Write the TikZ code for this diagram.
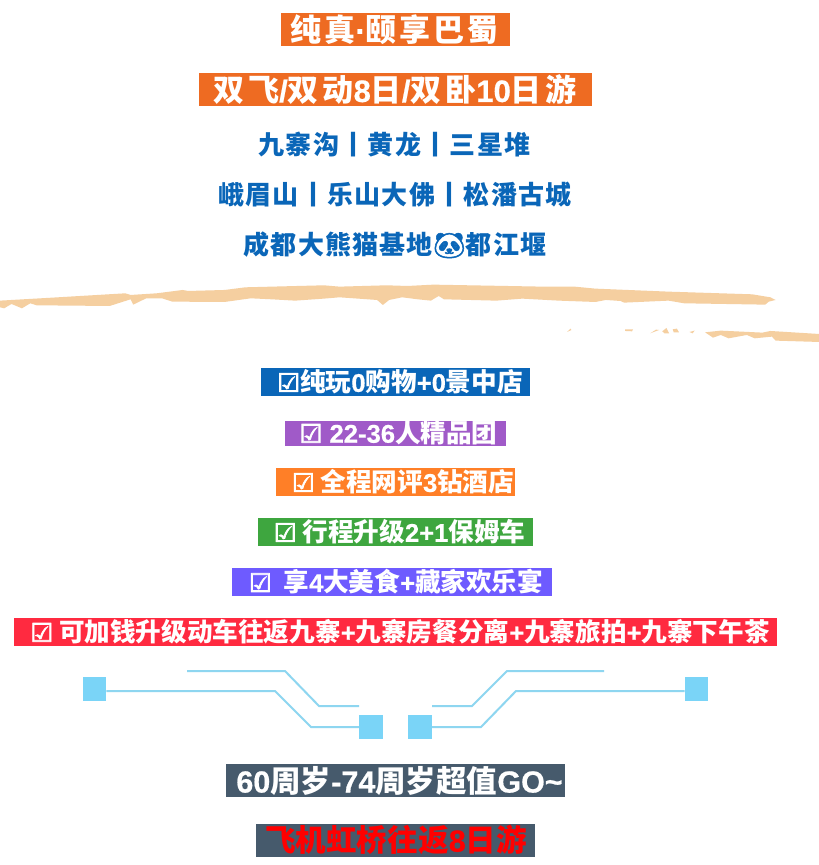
\documentclass[tikz,border=0pt]{standalone}
\usepackage{fontspec}
\setmainfont{Noto Sans CJK SC}
\newfontfamily\la[FakeBold=0.6]{Liberation Sans}
\newfontfamily\ck[FakeBold=3]{DejaVu Sans}
\newfontfamily\emo[FakeBold=2]{Noto Emoji}
\definecolor{topor}{HTML}{EE6B22}
\definecolor{blu}{HTML}{0A66B8}
\definecolor{pur}{HTML}{A05AC8}
\definecolor{org}{HTML}{FF7F27}
\definecolor{grn}{HTML}{3EA63F}
\definecolor{vio}{HTML}{6E5BFF}
\definecolor{rd}{HTML}{FF2A40}
\definecolor{slate}{HTML}{465A6C}
\definecolor{wire}{HTML}{8ED6F0}
\definecolor{sq}{HTML}{7AD4F7}
\definecolor{brush}{HTML}{F5CFA0}
\newcommand{\txt}[3]{\fontsize{#1}{#1}\bfseries\addfontfeature{LetterSpace=#2}#3}
\newcommand{\lat}[1]{{\la\bfseries #1}}
\newcommand{\cb}{{\ck ☑}}
\tikzset{
  x=1pt,y=-1pt,
  tag/.style={inner sep=0pt,text=white},
  wirel/.style={draw=wire,line width=2pt},
  sqbox/.style={fill=sq,minimum width=23.5pt,minimum height=24pt,inner sep=0pt},
  bar/.style={fill=#1},
}
\begin{document}
\begin{tikzpicture}
\useasboundingbox (0,0) rectangle (819,865);
\fill[white] (0,0) rectangle (819,865);
% coloured bars
\fill[bar=topor] (281,13) rectangle (510,46);
\fill[bar=topor] (199,73) rectangle (592,106);
\fill[bar=blu] (261,368) rectangle (530,396);
\fill[bar=pur] (285,421) rectangle (506,446);
\fill[bar=org] (276,468) rectangle (515,496);
\fill[bar=grn] (258,518) rectangle (533,546);
\fill[bar=vio] (232,568) rectangle (552,596);
\fill[bar=rd] (14,618) rectangle (777,646);
\fill[bar=slate] (226,764) rectangle (565,797);
\fill[bar=slate] (256,824) rectangle (535,857);
% headings
\node[tag] (h1) at (394.5,30) {\txt{31}{9}{纯真\lat{·}颐享巴蜀}};
\node[tag] (h2) at (395,90) {\txt{31}{12.5}{双飞\lat{/}双动\lat{8}日\lat{/}双卧\lat{10}日游}};
\node[tag,text=blu] (b1) at (394.5,145) {\txt{26}{5}{九寨沟丨黄龙丨三星堆}};
\node[tag,text=blu] (b2) at (395,195) {\txt{26}{5}{峨眉山丨乐山大佛丨松潘古城}};
\node[tag,text=blu] (b3) at (395,245) {\txt{26}{4.5}{成都大熊猫基地{\emo 🐼}都江堰}};
% brush strokes
\begin{scope}[x=0.5223pt,y=-0.3333pt,shift={(0,810)}]
\fill[brush] (0,92) -- (100,83) -- (240,70) -- (250,75) -- (300,70) -- (350,60) -- (360,63) -- (430,60) -- (470,52) -- (620,46) -- (650,50) -- (740,46) -- (780,48) -- (830,44) -- (1040,50) -- (1100,50) -- (1140,56) -- (1280,65) -- (1440,73) -- (1475,82) -- (1485,90) -- (1472,95) -- (1465,104) -- (1310,100) -- (1280,92) -- (1195,98) -- (1188,93) -- (1160,90) -- (1140,96) -- (1070,92) -- (1000,86) -- (950,92) -- (850,88) -- (840,78) -- (825,92) -- (800,88) -- (770,82) -- (745,90) -- (733,105) -- (722,90) -- (650,82) -- (620,86) -- (565,92) -- (520,88) -- (480,85) -- (430,96) -- (330,95) -- (310,85) -- (280,85) -- (255,104) -- (250,88) -- (210,108) -- (70,106) -- (58,100) -- (42,115) -- (22,102) -- (8,115) -- (0,112) -- cycle;
\fill[brush] (1350,187) -- (1380,182) -- (1460,188) -- (1475,183) -- (1568,192) -- (1568,216) -- (1485,212) -- (1478,200) -- (1445,205) -- (1430,195) -- (1395,205) -- (1380,195) -- (1365,203) -- cycle;
\fill[brush] (1086,186) -- (1092,176) -- (1094,180) -- cycle;
\fill[brush] (1197,178) -- (1212,178) -- (1210,184) -- (1197,183) -- cycle;
\fill[brush] (1245,190) -- (1256,179) -- (1262,180) -- cycle;
\fill[brush] (1268,184) -- (1276,174) -- (1281,190) -- (1272,190) -- cycle;
\fill[brush] (1288,178) -- (1296,176) -- (1300,187) -- (1290,187) -- cycle;
\fill[brush] (1320,186) -- (1330,182) -- (1326,190) -- cycle;
\end{scope}
% selling points
\node[tag] (p1) at (400,382) {\txt{25.6}{0}{\cb 纯玩\lat{0}购物\lat{+0}景中店}};
\node[tag] (p2) at (398.5,433) {\txt{25.6}{0}{\cb\lat{ 22-36}人精品团}};
\node[tag] (p3) at (403,482) {\txt{25.6}{0}{\cb\ 全程网评\lat{3}钻酒店}};
\node[tag] (p4) at (399.5,532) {\txt{25.6}{0}{\cb\ 行程升级\lat{2+1}保姆车}};
\node[tag] (p5) at (396,582) {\txt{25.6}{0}{\cb\ \ 享\lat{4}大美食\lat{+}藏家欢乐宴}};
\node[tag] (p6) at (400,632) {\txt{25.6}{0}{\cb\ 可加钱升级动车往返九寨\lat{+}九寨房餐分离\lat{+}九寨旅拍\lat{+}九寨下午茶}};
% connector
\node[sqbox] (sl) at (94.5,689) {};
\node[sqbox] (sm) at (371,727) {};
\node[sqbox] (nm) at (420,727) {};
\node[sqbox] (nr) at (696.5,689) {};
\coordinate (u1) at (187,671);
\coordinate (u2) at (359,706);
\coordinate (v1) at (604,671);
\coordinate (v2) at (432,706);
\draw[wirel] (sl.east) ++(0,2) -- (275,691) -- (311,727) -- (sm.west);
\draw[wirel] (nr.west) ++(0,2) -- (516,691) -- (481,727) -- (nm.east);
\draw[wirel] (u1) -- (285,671) -- (319,706) -- (u2);
\draw[wirel] (v1) -- (507,671) -- (472,706) -- (v2);
% footer
\node[tag] (f1) at (399.5,781) {\txt{30.5}{0}{\lat{60}周岁\lat{-74}周岁超值\lat{GO\textasciitilde}}};
\node[tag,text=red] (f2) at (396,840) {\txt{30.5}{0.5}{飞机虹桥往返\lat{8}日游}};
\end{tikzpicture}
\end{document}
